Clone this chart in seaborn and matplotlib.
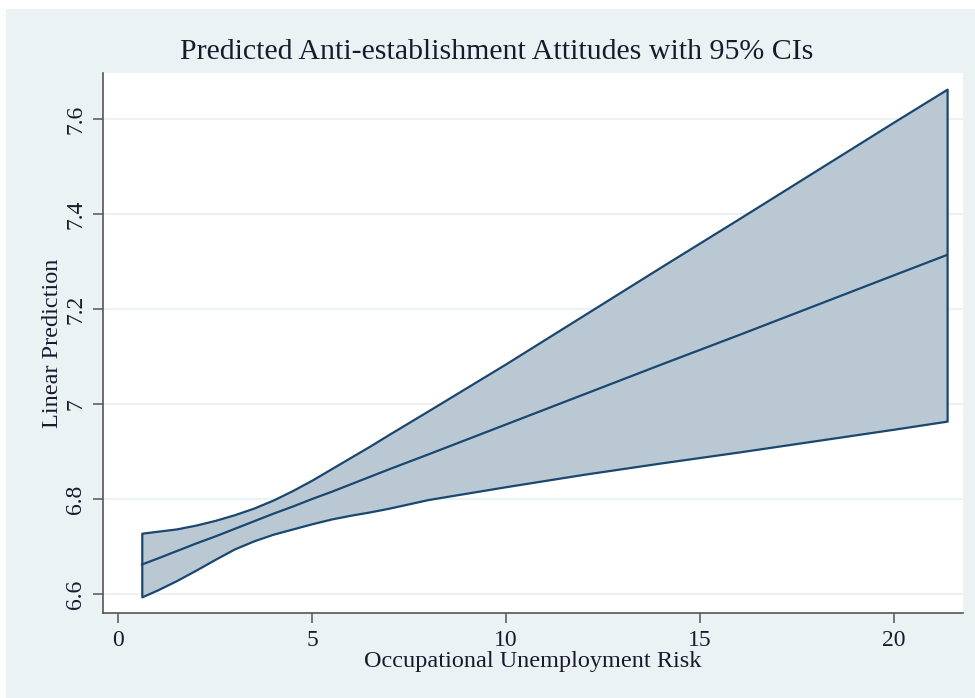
import matplotlib
matplotlib.use("Agg")
import matplotlib.pyplot as plt
from matplotlib.patches import Rectangle
import pandas as pd
import seaborn as sns

# Occupational unemployment risk values and linear predictions with 95% CI
risk = [0.61, 1, 1.5, 2, 2.5, 3, 3.5, 4, 4.5, 5, 5.5, 6, 6.5, 7, 8,
        10, 12, 14, 16, 18, 20, 21.37]
pred = [6.662, 6.674, 6.690, 6.706, 6.721, 6.737, 6.753, 6.769, 6.784, 6.800,
        6.815, 6.831, 6.847, 6.863, 6.894, 6.957, 7.020, 7.083, 7.145, 7.208,
        7.271, 7.314]
ci_upper = [6.728, 6.732, 6.737, 6.745, 6.755, 6.767, 6.781, 6.798, 6.818, 6.840,
            6.864, 6.888, 6.912, 6.937, 6.986, 7.085, 7.187, 7.289, 7.390, 7.492,
            7.594, 7.663]
ci_lower = [6.594, 6.608, 6.628, 6.650, 6.673, 6.695, 6.712, 6.726, 6.737, 6.748,
            6.758, 6.766, 6.773, 6.781, 6.799, 6.826, 6.852, 6.876, 6.899, 6.923,
            6.947, 6.964]

x_ticks = [0, 5, 10, 15, 20]
y_ticks = [6.6, 6.8, 7.0, 7.2, 7.4, 7.6]
y_tick_labels = ["6.6", "6.8", "7", "7.2", "7.4", "7.6"]

df = pd.DataFrame({"risk": risk, "pred": pred, "lo": ci_lower, "hi": ci_upper})

sns.set_theme(style="white")
plt.rcParams["font.family"] = ["Liberation Serif", "DejaVu Serif"]

NAVY = "#1A476F"
BAND = "#BAC8D3"
BG = "#EAF2F3"
TEXT = "#1a1a2e"

fig = plt.figure(figsize=(9.75, 6.98), dpi=100, facecolor="white")
fig.patches.append(Rectangle((6 / 975, 0), 1, 1 - 9 / 698, transform=fig.transFigure,
                             facecolor=BG, edgecolor="none", zorder=-10))

ax = fig.add_axes([103 / 975, 1 - 613 / 698, (963 - 103) / 975, (613 - 73) / 698])
ax.set_facecolor("white")

ax.fill_between(df["risk"], df["lo"], df["hi"], facecolor=BAND,
                edgecolor=NAVY, linewidth=1.6, zorder=2)
sns.lineplot(data=df, x="risk", y="pred", color=NAVY, linewidth=1.6, ax=ax, zorder=3)

ax.set_xlim(-0.39, 21.78)
ax.set_ylim(6.56, 7.697)
ax.set_xticks(x_ticks)
ax.set_xticklabels([str(t) for t in x_ticks])
ax.set_yticks(y_ticks)
ax.set_yticklabels(y_tick_labels, rotation=90, va="center")

ax.yaxis.grid(True, color=BG, linewidth=1.5, zorder=0)
ax.xaxis.grid(False)
ax.set_axisbelow(True)

for side in ["top", "right"]:
    ax.spines[side].set_visible(False)
for side in ["left", "bottom"]:
    ax.spines[side].set_color("#555555")
    ax.spines[side].set_linewidth(1.2)

ax.tick_params(axis="both", direction="out", length=7, width=1.1, color="#555555",
               labelsize=17, labelcolor=TEXT, left=True, bottom=True)
ax.tick_params(axis="y", pad=5)
ax.tick_params(axis="x", pad=5)

ax.set_xlabel("Occupational Unemployment Risk", fontsize=17.5, color=TEXT, labelpad=0)
ax.set_ylabel("Linear Prediction", fontsize=17.5, color=TEXT, labelpad=2)
fig.text(497 / 975, 1 - 52 / 698,
         "Predicted Anti-establishment Attitudes with 95% CIs",
         ha="center", va="center", fontsize=21.5, color=TEXT)

fig.savefig("out.png", dpi=100, facecolor="white")
